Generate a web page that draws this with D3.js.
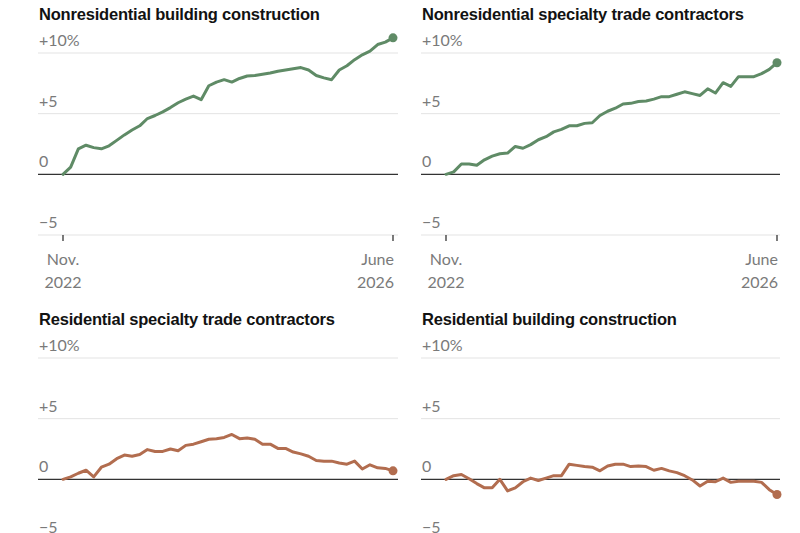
<!DOCTYPE html>
<html>
<head>
<meta charset="utf-8">
<script src="https://cdn.jsdelivr.net/npm/d3@7"></script>
<style>
  html, body { margin: 0; padding: 0; background: #fff; }
  svg { display: block; }
</style>
</head>
<body>
<svg id="chart" width="800" height="533"></svg>
<script>
// ---- Data (percent change since Nov. 2022, monthly Nov. 2022 – June 2026) ----
const titles = [
  "Nonresidential building construction",
  "Nonresidential specialty trade contractors",
  "Residential specialty trade contractors",
  "Residential building construction"
];
const nonresBuilding = [0, 0.6, 2.1, 2.4, 2.2, 2.1, 2.35, 2.8, 3.25, 3.65, 4.0, 4.6, 4.85, 5.15, 5.5, 5.9, 6.2, 6.45, 6.15, 7.3, 7.6, 7.8, 7.6, 7.9, 8.1, 8.15, 8.25, 8.35, 8.5, 8.6, 8.7, 8.8, 8.6, 8.15, 7.95, 7.8, 8.6, 8.95, 9.45, 9.85, 10.15, 10.7, 10.9, 11.25];
const nonresSpecialty = [0, 0.2, 0.85, 0.85, 0.75, 1.2, 1.5, 1.7, 1.75, 2.3, 2.15, 2.45, 2.85, 3.1, 3.5, 3.7, 4.0, 4.0, 4.2, 4.25, 4.85, 5.2, 5.45, 5.8, 5.85, 6.0, 6.05, 6.2, 6.4, 6.4, 6.6, 6.8, 6.65, 6.5, 7.05, 6.7, 7.55, 7.25, 8.05, 8.05, 8.05, 8.3, 8.65, 9.2];
const resSpecialty = [0, 0.2, 0.5, 0.75, 0.2, 1.0, 1.25, 1.7, 2.0, 1.9, 2.05, 2.45, 2.3, 2.3, 2.5, 2.35, 2.8, 2.9, 3.1, 3.3, 3.35, 3.45, 3.7, 3.35, 3.4, 3.3, 2.9, 2.9, 2.55, 2.55, 2.25, 2.1, 1.9, 1.55, 1.5, 1.5, 1.35, 1.25, 1.5, 0.85, 1.2, 0.95, 0.9, 0.7];
const resBuilding = [0, 0.3, 0.4, 0.05, -0.35, -0.7, -0.7, 0, -0.95, -0.7, -0.2, 0.1, -0.1, 0.1, 0.3, 0.3, 1.25, 1.15, 1.05, 1.0, 0.7, 1.1, 1.25, 1.25, 1.05, 1.1, 1.05, 0.75, 0.9, 0.7, 0.55, 0.3, -0.05, -0.55, -0.15, -0.2, 0.1, -0.25, -0.15, -0.15, -0.15, -0.25, -0.85, -1.25];
const seriesList = [nonresBuilding, nonresSpecialty, resSpecialty, resBuilding];
const seriesColors = ["#5f8b66", "#5f8b66", "#b26d4f", "#b26d4f"];
const yTicks = [10, 5, 0, -5];
const yTickLabels = ["+10%", "+5", "0", "\u22125"];
const xTickIdx = [0, 43];
const xTickLabels = [["Nov.", "2022"], ["June", "2026"]];
const showXAxis = [true, true, false, false];

// ---- Layout ----
const panels = [
  { gx0: 38, gx1: 398, lx0: 63, lx1: 393, top: 0 },
  { gx0: 421, gx1: 780, lx0: 446, lx1: 777, top: 0 },
  { gx0: 38, gx1: 398, lx0: 63, lx1: 393, top: 305 },
  { gx0: 421, gx1: 780, lx0: 446, lx1: 777, top: 305 }
];

const svg = d3.select("#chart");
const labelFont = "'Lato', 'Open Sans', sans-serif";
const titleFont = "'Liberation Sans', Arial, sans-serif";

panels.forEach((p, i) => {
  const data = seriesList[i];
  const x = d3.scaleLinear().domain([0, data.length - 1]).range([p.lx0, p.lx1]);
  const y = d3.scaleLinear().domain([-5, 10]).range([p.top + 235, p.top + 53]);
  const g = svg.append("g");

  // title
  g.append("text")
    .attr("x", p.gx0 + 1)
    .attr("y", p.top + 20)
    .attr("font-family", titleFont)
    .attr("font-weight", "bold")
    .attr("font-size", 16.5)
    .attr("fill", "#121212")
    .attr("letter-spacing", "-0.2")
    .text(titles[i]);

  // gridlines
  g.selectAll("line.grid")
    .data(yTicks.filter(t => t !== 0))
    .join("line")
    .attr("class", "grid")
    .attr("x1", p.gx0).attr("x2", p.gx1)
    .attr("y1", d => y(d)).attr("y2", d => y(d))
    .attr("stroke", "#e3e3e3").attr("stroke-width", 1);

  // y labels
  g.selectAll("text.ylab")
    .data(yTicks)
    .join("text")
    .attr("class", "ylab")
    .attr("x", p.gx0 + 1)
    .attr("y", d => y(d) - 7)
    .attr("font-family", labelFont)
    .attr("font-size", 16)
    .attr("fill", "#7a7a7a")
    .text((d, k) => yTickLabels[k]);

  // zero line
  g.append("line")
    .attr("x1", p.gx0).attr("x2", p.gx1)
    .attr("y1", y(0)).attr("y2", y(0))
    .attr("stroke", "#333").attr("stroke-width", 1.2);

  // x axis ticks and labels
  if (showXAxis[i]) {
    xTickIdx.forEach((ti, k) => {
      g.append("line")
        .attr("x1", x(ti)).attr("x2", x(ti))
        .attr("y1", y(-5)).attr("y2", y(-5) + 6)
        .attr("stroke", "#333").attr("stroke-width", 1.3);
      const anchor = k === 0 ? "middle" : "end";
      const tx = k === 0 ? x(ti) : x(ti) + 1;
      xTickLabels[k].forEach((line, j) => {
        g.append("text")
          .attr("x", tx)
          .attr("y", y(-5) + 30 + j * 23)
          .attr("text-anchor", anchor)
          .attr("font-family", labelFont)
          .attr("font-size", 16)
          .attr("fill", "#7a7a7a")
          .text(line);
      });
    });
  }

  // line
  const line = d3.line().x((d, k) => x(k)).y(d => y(d));
  g.append("path")
    .datum(data)
    .attr("d", line)
    .attr("fill", "none")
    .attr("stroke", seriesColors[i])
    .attr("stroke-width", 3)
    .attr("stroke-linejoin", "round")
    .attr("stroke-linecap", "round");

  // end dot
  g.append("circle")
    .attr("cx", x(data.length - 1))
    .attr("cy", y(data[data.length - 1]))
    .attr("r", 4.5)
    .attr("fill", seriesColors[i]);
});
</script>
</body>
</html>
